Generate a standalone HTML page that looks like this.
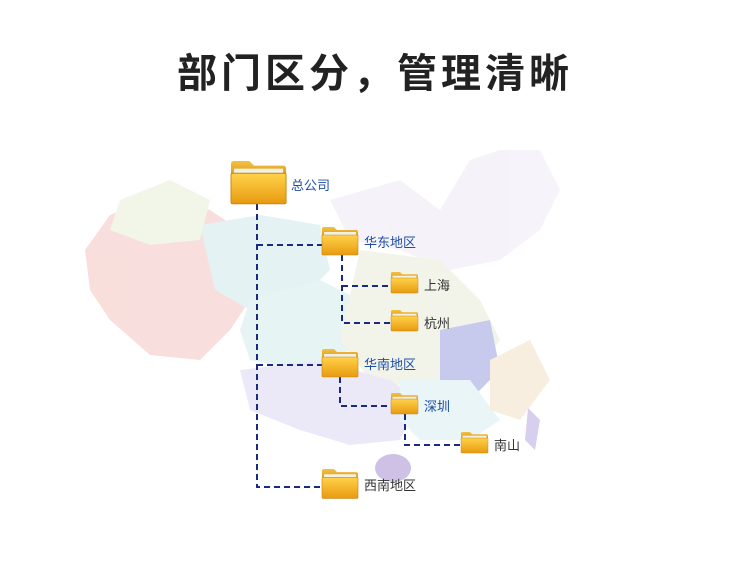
<!DOCTYPE html>
<html><head><meta charset="utf-8"><style>
body{margin:0;width:750px;height:570px;background:#fff;overflow:hidden;font-family:"Liberation Sans","Noto Sans CJK SC",sans-serif}
</style></head><body>
<svg width="750" height="570" viewBox="0 0 750 570" xmlns="http://www.w3.org/2000/svg">
<defs>
<linearGradient id="fg" x1="0" y1="0" x2="0" y2="1"><stop offset="0" stop-color="#ffd24a"/><stop offset="1" stop-color="#e89a10"/></linearGradient>
<linearGradient id="ft" x1="0" y1="0" x2="0" y2="1"><stop offset="0" stop-color="#f4c040"/><stop offset="1" stop-color="#d99a1a"/></linearGradient>
<g id="fold">
<path d="M0,4 L0,2 Q0,0 2,0 L12,0 L15,3 L34,3 Q36,3 36,5 L36,10 L0,10Z" fill="url(#ft)"/>
<rect x="2" y="5" width="32" height="6" fill="#f3f0e6"/>
<rect x="0" y="8" width="36" height="20" rx="1" fill="url(#fg)" stroke="#c58512" stroke-width="0.6"/>
</g>
</defs>
<text x="375" y="87" text-anchor="middle" font-size="40" font-weight="bold" fill="#222" letter-spacing="4" font-family="Liberation Sans, Noto Sans CJK SC, sans-serif">部门区分，管理清晰</text>
<g opacity="0.55">
<path d="M85,250 L110,215 L160,195 L210,210 L240,230 L260,260 L250,300 L230,330 L200,360 L150,355 L110,320 L90,290Z" fill="#f4c4c0"/>
<path d="M200,225 L260,215 L320,225 L330,270 L300,300 L250,310 L215,290Z" fill="#cfe8ea"/>
<path d="M250,300 L320,280 L360,300 L350,350 L300,370 L250,360 L240,330Z" fill="#d3ecec"/>
<path d="M330,200 L400,180 L440,210 L470,160 L500,150 L540,150 L560,190 L540,230 L500,260 L450,270 L400,250 L350,240Z" fill="#eeeaf5"/>
<path d="M360,250 L440,260 L480,300 L500,340 L470,380 L430,390 L370,380 L340,340Z" fill="#e9ecd9"/>
<path d="M440,330 L490,320 L500,370 L470,400 L440,390Z" fill="#9aa0e0"/>
<path d="M240,370 L320,360 L390,380 L420,400 L400,440 L350,445 L300,430 L250,410Z" fill="#dcd8f4"/>
<path d="M400,380 L470,380 L500,420 L470,440 L420,440 L400,420Z" fill="#d8eef2"/>
<path d="M490,360 L530,340 L550,380 L520,420 L490,410Z" fill="#f3e1c8"/>
<path d="M120,200 L170,180 L210,200 L200,240 L150,245 L110,230Z" fill="#e7efd8"/>
<ellipse cx="393" cy="468" rx="18" ry="14" fill="#a890d0"/>
<path d="M528,408 L540,420 L535,450 L525,440Z" fill="#b8a8e0"/>
</g>
<g fill="none" stroke="#1a2a80" stroke-width="2" stroke-dasharray="6,4">
<path d="M257,204 V487 H322"/>
<path d="M257,245 H322"/>
<path d="M257,365 H322"/>
<path d="M342,255 V323 H391"/>
<path d="M342,286 H391"/>
<path d="M340,377 V406 H391"/>
<path d="M405,414 V445 H461"/>
</g>
<use href="#fold" transform="translate(231,161) scale(1.53)"/>
<use href="#fold" transform="translate(322,227)"/>
<use href="#fold" transform="translate(391,272) scale(0.75)"/>
<use href="#fold" transform="translate(391,310) scale(0.75)"/>
<use href="#fold" transform="translate(322,349)"/>
<use href="#fold" transform="translate(391,393) scale(0.75)"/>
<use href="#fold" transform="translate(461,432) scale(0.75)"/>
<use href="#fold" transform="translate(322,469) scale(1,1.05)"/>
<g font-size="13">
<text x="291" y="190" fill="#1e4fa8">总公司</text>
<text x="364" y="247" fill="#1e4fa8">华东地区</text>
<text x="424" y="290" fill="#333">上海</text>
<text x="424" y="328" fill="#333">杭州</text>
<text x="364" y="369" fill="#1e4fa8">华南地区</text>
<text x="424" y="411" fill="#1e4fa8">深圳</text>
<text x="494" y="450" fill="#333">南山</text>
<text x="364" y="490" fill="#333">西南地区</text>
</g>
</svg>
</body></html>
